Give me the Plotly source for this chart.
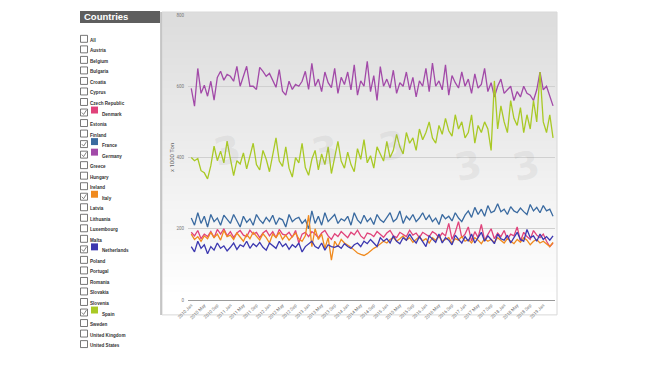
import plotly.graph_objects as go

# ---------------- data ----------------
years = list(range(2010, 2020))
month_names = ["Jan", "Feb", "Mar", "Apr", "May", "Jun", "Jul", "Aug", "Sep", "Oct", "Nov", "Dec"]
months = [f"{y} {m}" for y in years for m in month_names][:112]
tick_labels = months[::4]

germany = [594, 544, 650, 580, 603, 572, 614, 561, 625, 642, 617, 633,
           628, 614, 656, 600, 628, 656, 600, 600, 591, 653, 642, 628,
           636, 614, 597, 647, 586, 575, 614, 591, 605, 600, 614, 642,
           591, 664, 600, 620, 585, 640, 610, 596, 650, 580, 625, 605,
           640, 590, 660, 575, 615, 600, 670, 585, 630, 560, 655, 600,
           620, 595, 645, 580, 610, 600, 640, 590, 625, 570, 615, 600,
           650, 585, 665, 600, 615, 590, 660, 575, 630, 610, 595, 640,
           600, 620, 580, 635, 595, 605, 650, 585, 610, 570, 600, 620,
           580, 590, 600, 560, 585, 570, 600, 580, 575, 560, 590, 640,
           590, 600, 575, 545]
spain = [400, 391, 397, 363, 357, 340, 377, 432, 391, 418, 385, 446,
         397, 349, 391, 382, 413, 368, 404, 440, 380, 365, 420, 395,
         360, 410, 455, 390, 375, 430, 370, 345, 400, 385, 440, 372,
         350, 395, 420, 365, 410, 380, 430, 355, 400, 445, 390, 370,
         415, 380, 360, 425, 395, 450, 385, 405, 370, 430, 410, 390,
         445, 400, 420, 465, 430, 410, 470, 440, 455, 420, 480, 450,
         470, 500, 455, 440, 490, 465, 510, 475, 460, 520, 480, 500,
         455, 470, 520, 440, 490, 470, 500, 480, 420, 615, 480, 545,
         500, 470, 560, 510, 490, 540, 470, 520, 480, 560, 500, 640,
         500, 470, 520, 455]
france = [230, 210, 245, 215, 235, 205, 240, 220, 230, 210, 238, 225,
          215, 240, 222, 205, 235, 218, 228, 210, 240, 225, 215, 232,
          220, 238, 212, 230, 225, 205, 240, 220, 228, 232, 215, 225,
          200, 250, 215, 235, 210, 245, 220, 230, 240, 215, 228, 222,
          235, 210, 245, 225, 215, 238, 220, 230, 212, 240, 225, 218,
          232, 245, 220, 228, 250, 215, 235, 225, 240, 220, 230, 245,
          225, 238, 220, 230, 212, 240, 228, 235, 222, 245, 230, 220,
          238, 250, 232, 260, 240, 255, 235, 265, 245, 250, 270, 248,
          255, 240, 262, 250, 245, 258, 248, 240, 268, 250, 260, 245,
          265, 250, 255, 235]
denmark = [190, 180, 195, 172, 185, 178, 192, 175, 198, 185, 200, 180,
           192, 176, 188, 195, 182, 178, 196, 185, 190, 175, 188, 195,
           180, 192, 175, 198, 185, 182, 190, 176, 195, 160, 185, 190,
           178, 192, 185, 175, 188, 195, 180, 170, 186, 178, 192, 182,
           175, 190, 183, 196, 180, 172, 188, 185, 178, 192, 184, 176,
           188, 195, 180, 175, 190, 184, 178, 196, 182, 188, 175, 190,
           183, 178, 192, 186, 175, 188, 180, 215, 170, 190, 220, 175,
           185, 205, 165, 192, 175, 212, 168, 185, 200, 172, 188, 178,
           195, 170, 185, 180, 205, 165, 190, 178, 170, 195, 182, 175,
           185, 165, 150, 160]
italy = [185, 170, 178, 165, 180, 172, 190, 175, 185, 168, 195, 178,
         182, 170, 188, 176, 165, 184, 172, 190, 178, 168, 186, 175,
         160, 185, 175, 190, 170, 182, 168, 178, 188, 172, 165, 180,
         238, 150, 200, 170, 185, 145, 175, 112, 165, 150, 170, 160,
         155, 148, 140, 132, 128, 125, 130, 138, 145, 150, 158, 165,
         160, 170, 175, 165, 172, 180, 168, 175, 162, 170, 178, 166,
         172, 160, 175, 168, 180, 165, 170, 175, 160, 172, 168, 178,
         165, 170, 160, 175, 168, 158, 172, 165, 170, 162, 175, 168,
         160, 172, 165, 158, 170, 162, 175, 168, 155, 165, 170, 160,
         165, 158, 150, 162]
netherlands = [150, 135, 165, 145, 155, 130, 150, 140, 160, 145, 152, 138,
               148, 160, 142, 155, 150, 165, 145, 158, 150, 162, 148, 140,
               160, 152, 145, 165, 150, 158, 142, 155, 148, 160, 135, 150,
               158, 165, 150, 145, 160, 140, 155, 150, 148, 152, 145, 158,
               150, 145, 155, 160, 150, 165, 158, 170, 160, 150, 175, 165,
               172, 160, 180, 165, 158, 175, 168, 185, 170, 160, 178, 165,
               150, 180, 170, 162, 185, 160, 175, 168, 155, 182, 170, 160,
               178, 165, 185, 160, 175, 190, 165, 180, 170, 158, 185, 172,
               168, 182, 160, 175, 190, 170, 165, 198, 175, 180, 165, 185,
               170, 178, 168, 180]

countries = ["All", "Austria", "Belgium", "Bulgaria", "Croatia", "Cyprus", "Czech Republic",
             "Denmark", "Estonia", "Finland", "France", "Germany", "Greece", "Hungary",
             "Ireland", "Italy", "Latvia", "Lithuania", "Luxembourg", "Malta", "Netherlands",
             "Poland", "Portugal", "Romania", "Slovakia", "Slovenia", "Spain", "Sweden",
             "United Kingdom", "United States"]
series = {
    "Denmark": (denmark, "#e0427a"),
    "France": (france, "#3a6aa0"),
    "Germany": (germany, "#a24aa8"),
    "Italy": (italy, "#f08a1e"),
    "Netherlands": (netherlands, "#3c38b0"),
    "Spain": (spain, "#a9c925"),
}
y_ticks = [0, 200, 400, 600, 800]

# ---------------- geometry (reference pixel coords; page body adds 8px offset) ----------------
OFF = 8
PL, PR, PT, PB = 188, 555, 13, 300
W, H = 650 - OFF, 366 - OFF


def px(x):
    return (x - PL) / (PR - PL)


def py(y):
    return (PB - y) / (PB - PT)


fig = go.Figure()
for name in ["Germany", "Spain", "France", "Denmark", "Italy", "Netherlands"]:
    vals, col = series[name]
    fig.add_trace(go.Scatter(x=months, y=vals, mode="lines", name=name,
                             line=dict(color=col, width=1.3), showlegend=False))

shapes = []
# gradient background of chart box
x0, x1, y0, y1 = 162, 557, 10, 315
N = 40
step = (y1 - y0) / N
for i in range(N):
    t0 = y0 + step * i
    t1 = min(y1, t0 + step + 1.0)
    f = min(1.0, i / (N * 0.92))
    g = int(221 + (255 - 221) * f)
    shapes.append(dict(type="rect", xref="paper", yref="paper", x0=px(x0), x1=px(x1),
                       y0=py(t1), y1=py(t0), fillcolor=f"rgb({g},{g},{g})",
                       line=dict(width=0), layer="below"))
shapes.append(dict(type="rect", xref="paper", yref="paper", x0=px(x0), x1=px(x1),
                   y0=py(y1), y1=py(y0), line=dict(color="#d8d8d8", width=1),
                   fillcolor="rgba(0,0,0,0)", layer="below"))
shapes.append(dict(type="line", xref="paper", yref="paper", x0=px(161), x1=px(161),
                   y0=py(y1), y1=py(y0), line=dict(color="#b8b8b8", width=1.5)))
# header
shapes.append(dict(type="rect", xref="paper", yref="paper", x0=px(80), x1=px(160),
                   y0=py(21), y1=py(9), fillcolor="#5e5e5e", line=dict(width=0)))

annotations = [dict(text="<b>Countries</b>", xref="paper", yref="paper", x=px(82), y=py(15),
                    xanchor="left", yanchor="middle", showarrow=False,
                    font=dict(family="Liberation Sans", size=9.5, color="white"))]

# faint watermark logos
for (wx, wy) in [(207, 150), (305, 150), (392, 145), (488, 165), (546, 165)]:
    annotations.append(dict(text="<b>3</b>", xref="paper", yref="paper", x=px(wx), y=py(wy),
                            showarrow=False, textangle=-12,
                            font=dict(family="DejaVu Sans", size=38, color="rgba(150,150,150,0.13)")))

for i, c in enumerate(countries):
    yc = 37 + i * 10.6
    shapes.append(dict(type="rect", xref="paper", yref="paper", x0=px(80.5), x1=px(87.5),
                       y0=py(yc + 3.5), y1=py(yc - 3.5), line=dict(color="#555555", width=0.8),
                       fillcolor="white"))
    lx = 87.5
    if c in series:
        col = series[c][1]
        shapes.append(dict(type="path", xref="paper", yref="paper",
                           path=f"M {px(81.8)} {py(yc)} L {px(83.6)} {py(yc + 2)} L {px(86.5)} {py(yc - 2.5)}",
                           line=dict(color="#666666", width=0.8)))
        shapes.append(dict(type="rect", xref="paper", yref="paper", x0=px(91), x1=px(98),
                           y0=py(yc + 1), y1=py(yc - 6), fillcolor=col, line=dict(width=0)))
        lx = 100
    annotations.append(dict(text=f"<b>{c}</b>", xref="paper", yref="paper", x=px(lx), y=py(yc + 1.5),
                            xanchor="left", yanchor="middle", showarrow=False,
                            font=dict(family="Liberation Sans", size=4.6, color="#333333")))

annotations.append(dict(text="x 1000 Ton", xref="paper", yref="paper", x=px(172), y=py(157),
                        textangle=-90, showarrow=False, xanchor="center", yanchor="middle",
                        font=dict(family="Roboto", size=6, color="#666666")))

fig.update_layout(
    width=W, height=H,
    margin=dict(l=PL - OFF, r=W - (PR - OFF), t=PT - OFF, b=H - (PB - OFF)),
    paper_bgcolor="white",
    plot_bgcolor="rgba(0,0,0,0)",
    shapes=shapes,
    annotations=annotations,
    xaxis=dict(type="category", range=[-1.0, 111.6], tickmode="array",
               tickvals=tick_labels, ticktext=tick_labels, tickangle=-45,
               tickfont=dict(family="Roboto", size=4.5, color="#777777"),
               showgrid=False, showline=True, linecolor="#9a9a9a", linewidth=1,
               ticks="", zeroline=False),
    yaxis=dict(range=[0, 800], tickvals=y_ticks, ticktext=[str(v) for v in y_ticks],
               tickfont=dict(family="Roboto", size=4.5, color="#777777"),
               showgrid=True, gridcolor="#d0d0d0", gridwidth=0.6, zeroline=False,
               showline=False, ticks="", ticklabelstandoff=3),
)

fig.write_html("out.html")
